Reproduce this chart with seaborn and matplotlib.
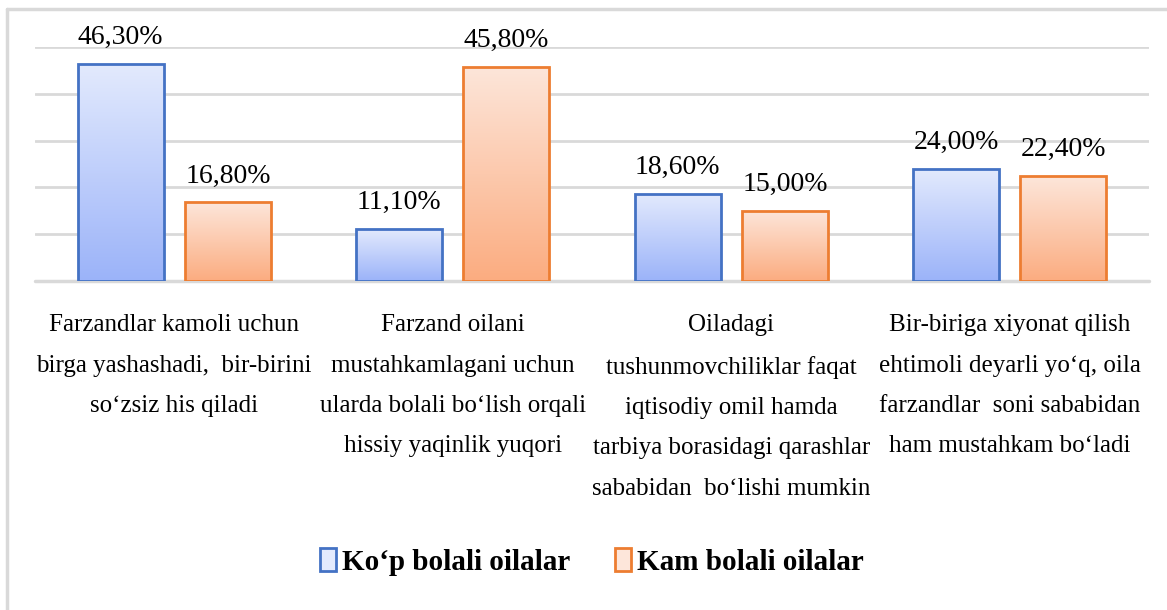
import numpy as np
import pandas as pd
import matplotlib
matplotlib.use("Agg")
import matplotlib.pyplot as plt
from matplotlib.lines import Line2D
from matplotlib.patches import Rectangle
from matplotlib.colors import LinearSegmentedColormap
import seaborn as sns

categories = [
    "Farzandlar kamoli uchun\nbirga yashashadi,  bir-birini\nso\u2018zsiz his qiladi",
    "Farzand oilani\nmustahkamlagani uchun\nularda bolali bo\u2018lish orqali\nhissiy yaqinlik yuqori",
    "Oiladagi\ntushunmovchiliklar faqat\niqtisodiy omil hamda\ntarbiya borasidagi qarashlar\nsababidan  bo\u2018lishi mumkin",
    "Bir-biriga xiyonat qilish\nehtimoli deyarli yo\u2018q, oila\nfarzandlar  soni sababidan\nham mustahkam bo\u2018ladi",
]
series_names = ["Ko\u2018p bolali oilalar", "Kam bolali oilalar"]
kop_values = [46.3, 11.1, 18.6, 24.0]
kam_values = [16.8, 45.8, 15.0, 22.4]

edge_colors = ["#4472C4", "#ED7D31"]
grad_top = ["#E3EAFD", "#FDE6DA"]
grad_bot = ["#9BB3F9", "#FBAC80"]

df = pd.DataFrame({
    "cat": categories * 2,
    "series": [series_names[0]] * 4 + [series_names[1]] * 4,
    "value": kop_values + kam_values,
})

sns.set_theme(style="white")
plt.rcParams["font.family"] = ["Liberation Serif", "DejaVu Serif"]
plt.rcParams["text.color"] = "black"
plt.rcParams["xtick.color"] = "black"

fig = plt.figure(figsize=(11.67, 6.10), dpi=100)
ax = fig.add_axes([0.030, 0.5393, 0.9546, 0.3837])

sns.barplot(data=df, x="cat", y="value", hue="series", hue_order=series_names,
            order=categories, width=0.77, gap=0.2, ax=ax, legend=False,
            palette=edge_colors, errorbar=None)

ax.set_ylim(0, 50)
ax.set_xlim(-0.5, 3.5)
ax.set_yticks([0, 10, 20, 30, 40, 50])
ax.yaxis.grid(True, color="#D9D9D9", linewidth=2)
ax.set_axisbelow(True)
for s in ax.spines.values():
    s.set_visible(False)
ax.tick_params(axis="y", left=False, labelleft=False)
ax.tick_params(axis="x", bottom=False, pad=18, labelcolor="black")
ax.set_xlabel("")
ax.set_ylabel("")
for lbl in ax.get_xticklabels():
    lbl.set_fontsize(18)
    lbl.set_linespacing(2.08)
    lbl.set_ha("center")
    lbl.set_va("top")

# gradient fill
grad = np.linspace(0, 1, 256).reshape(-1, 1)
containers = ax.containers
for si, cont in enumerate(containers):
    cmap = LinearSegmentedColormap.from_list(f"g{si}", [grad_bot[si], grad_top[si]])
    for patch in cont.patches:
        x0, y0 = patch.get_x(), patch.get_y()
        w, h = patch.get_width(), patch.get_height()
        im = ax.imshow(grad, cmap=cmap, origin="lower", aspect="auto",
                       extent=[x0, x0 + w, y0, y0 + h], zorder=2)
        im.set_clip_path(patch)
        patch.set_facecolor("none")
        patch.set_edgecolor(edge_colors[si])
        patch.set_linewidth(2)
        patch.set_zorder(3)
    labels = [f"{v:.2f}".replace(".", ",") + "%" for v in cont.datavalues]
    ax.bar_label(cont, labels=labels, padding=10, fontsize=20, color="black")

ax.set_xlim(-0.5, 3.5)
ax.set_ylim(0, 50)

# baseline
ax.axhline(0, color="#D9D9D9", linewidth=2.5, zorder=1, clip_on=False)

# legend
handles = [Rectangle((0, 0), 1, 1, facecolor=grad_top[i], edgecolor=edge_colors[i], linewidth=2)
           for i in range(2)]
leg = fig.legend(handles, series_names, loc="center", bbox_to_anchor=(0.507, 0.079),
                 ncol=2, frameon=False, handlelength=0.55, handleheight=0.85,
                 handletextpad=0.2, columnspacing=1.55,
                 prop={"family": "Liberation Serif", "weight": "bold", "size": 21})
for t in leg.get_texts():
    t.set_color("black")

# outer frame
fig.add_artist(Line2D([7 / 1167, 7 / 1167], [0, 1 - 9 / 610], transform=fig.transFigure,
                      color="#D9D9D9", linewidth=2.5))
fig.add_artist(Line2D([7 / 1167, 1], [1 - 9 / 610, 1 - 9 / 610], transform=fig.transFigure,
                      color="#D9D9D9", linewidth=2.5))

fig.savefig("out.png", dpi=100, facecolor="white")
